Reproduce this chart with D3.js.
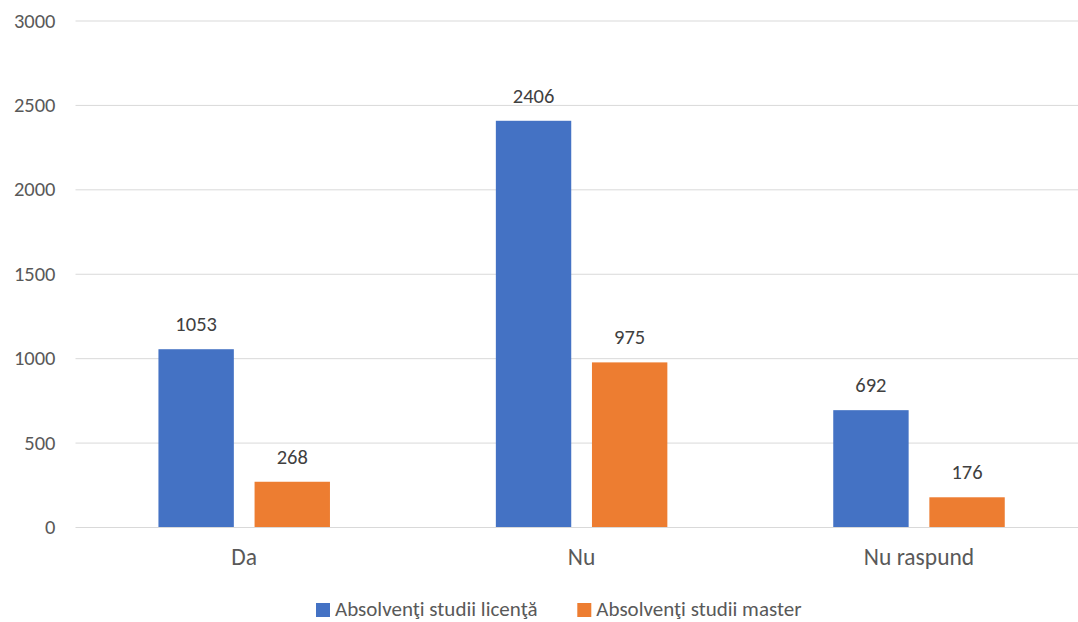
<!DOCTYPE html>
<html>
<head>
<meta charset="utf-8">
<script src="https://cdn.jsdelivr.net/npm/d3@7"></script>
<style>
  html, body { margin: 0; padding: 0; background: #ffffff; }
  svg { display: block; font-family: Carlito, Lato, "Open Sans", sans-serif; }
</style>
</head>
<body>
<svg id="chart" width="1078" height="622"></svg>
<script>
const categories = ["Da", "Nu", "Nu raspund"];
const seriesNames = ["Absolvenţi studii licenţă", "Absolvenţi studii master"];
const licentaValues = [1053, 2406, 692];
const masterValues = [268, 975, 176];
const yTicks = [0, 500, 1000, 1500, 2000, 2500, 3000];
const colors = ["#4472c4", "#ed7d31"];

const series = [licentaValues, masterValues];
const svg = d3.select("#chart");

const plotLeft = 75.5, plotRight = 1087.7, plotTop = 20.5, plotBottom = 527;

const x0 = d3.scaleBand().domain(categories).range([plotLeft, plotRight]).paddingInner(0).paddingOuter(0);
const x1 = d3.scaleBand().domain(d3.range(series.length))
  .range([0, x0.bandwidth()]).paddingInner(0.2156).paddingOuter(0.863);
const y = d3.scaleLinear().domain([0, 3000]).range([plotBottom, plotTop]);

// gridlines + tick labels
const yAxis = d3.axisLeft(y).tickValues(yTicks).tickSize(-(plotRight - plotLeft)).tickPadding(20).tickFormat(d3.format("d"));
const gAxis = svg.append("g").attr("transform", `translate(${plotLeft},0)`).call(yAxis);
gAxis.select(".domain").remove();
gAxis.selectAll(".tick line").attr("stroke", "#d9d9d9").attr("stroke-width", 1);
gAxis.selectAll(".tick text").attr("fill", "#595959").style("font-size", "20.5px")
  .style("font-family", "Carlito, Lato, sans-serif");

// bars + data labels
categories.forEach((c, ci) => {
  series.forEach((vals, si) => {
    const v = vals[ci];
    const bx = x0(c) + x1(si);
    svg.append("rect")
      .attr("x", bx).attr("y", y(v))
      .attr("width", x1.bandwidth()).attr("height", y(0) - y(v))
      .attr("fill", colors[si]);
    svg.append("text")
      .attr("x", bx + x1.bandwidth() / 2).attr("y", y(v) - 18)
      .attr("text-anchor", "middle")
      .attr("fill", "#404040").style("font-size", "20.5px")
      .text(v);
  });
});

// category labels
svg.selectAll(".cat").data(categories).enter().append("text")
  .attr("x", d => x0(d) + x0.bandwidth() / 2).attr("y", 565)
  .attr("text-anchor", "middle").attr("fill", "#595959").style("font-size", "23.5px")
  .text(d => d);

// legend
const legendX = [316, 577.3];
seriesNames.forEach((name, i) => {
  svg.append("rect").attr("x", legendX[i]).attr("y", 603).attr("width", 14).attr("height", 14).attr("fill", colors[i]);
  svg.append("text").attr("x", legendX[i] + 19).attr("y", 616)
    .attr("fill", "#595959").style("font-size", "21px").text(name);
});
</script>
</body>
</html>
